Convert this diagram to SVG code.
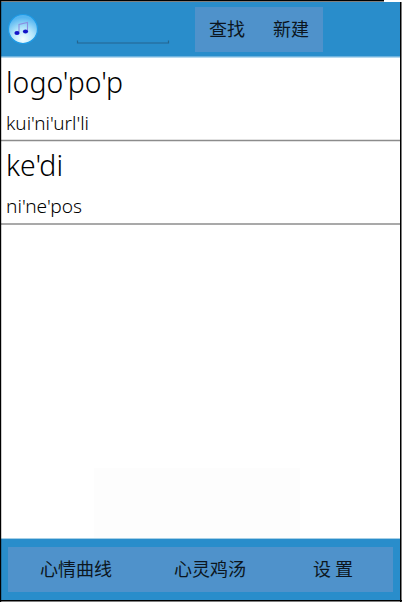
<svg xmlns="http://www.w3.org/2000/svg" width="402" height="602" viewBox="0 0 402 602">
<defs>
<style>
.bar{fill:#298dcb}
.panel{fill:#4f92cb}
.cjk{font-family:"Noto Sans CJK SC","Noto Sans",sans-serif;font-size:18px;fill:#0c1620}
.big{font-family:"Noto Sans",sans-serif;font-size:28.500px;font-weight:300;fill:#000}
.small{font-family:"Noto Sans",sans-serif;font-size:18.500px;font-weight:300;fill:#000}
.sep{stroke:#8c8c8c;stroke-width:1.4;fill:none}
</style>
<radialGradient id="orb" cx="50%" cy="85%" r="75%">
<stop offset="0" stop-color="#f4fdff"/><stop offset="0.5" stop-color="#b5e6fb"/><stop offset="1" stop-color="#55b5f0"/>
</radialGradient>
</defs>
<rect width="402" height="602" fill="#fff"/>
<rect x="94" y="468" width="206" height="70" fill="#fdfdfd"/>
<g id="top-bar">
<rect class="bar" x="1" y="2" width="399" height="55"/>
<rect x="1" y="56" width="399" height="1.5" fill="#6fb3de"/>
</g>
<g id="music-icon">
<circle cx="23" cy="29" r="14.5" fill="url(#orb)" stroke="#1f9be6" stroke-width="1.2"/>
<path d="M19 32V24.500L27.500 22.500V30.500" fill="none" stroke="#8a8fe0" stroke-width="1.100"/>
<ellipse cx="17" cy="33" rx="2.600" ry="2" fill="#1414c8"/>
<ellipse cx="25.500" cy="31.500" rx="2.600" ry="2" fill="#1414c8"/>
</g>
<g id="search-input">
<path d="M77.500 40.500V43H168.500V40.500" fill="none" stroke="#24658f" stroke-width="1.200"/>
</g>
<g id="top-buttons">
<rect class="panel" x="195" y="7" width="128" height="45"/>
<text class="cjk" x="209" y="36">查找</text>
<text class="cjk" x="273" y="36">新建</text>
</g>
<g id="item-1">
<text class="big" x="6" y="93" textLength="117" lengthAdjust="spacingAndGlyphs">logo'po'p</text>
<text class="small" x="6" y="129.500" textLength="83" lengthAdjust="spacingAndGlyphs">kui'ni'url'li</text>
<path class="sep" d="M1 140.500H401"/>
</g>
<g id="item-2">
<text class="big" x="6" y="176" textLength="57" lengthAdjust="spacingAndGlyphs">ke'di</text>
<text class="small" x="6" y="213" textLength="76" lengthAdjust="spacingAndGlyphs">ni'ne'pos</text>
<path class="sep" d="M1 224H401"/>
</g>
<g id="bottom-bar">
<rect x="1" y="538" width="399" height="1.5" fill="#a5cfe6"/>
<rect class="bar" x="1" y="539" width="399" height="61"/>
<rect class="panel" x="8" y="547" width="385" height="45"/>
<text class="cjk" x="40" y="576">心情曲线</text>
<text class="cjk" x="174" y="576">心灵鸡汤</text>
<text class="cjk" x="313" y="576">设 置</text>
</g>
<g id="frame" fill="#000">
<rect x="0" y="0" width="1.200" height="602"/>
<rect x="0" y="0" width="384" height="1.500"/>
<rect x="384" y="0" width="18" height="1" fill="#fff"/>
<rect x="400" y="2" width="1.500" height="600"/>
<rect x="0" y="600" width="402" height="1.500"/>
</g>
</svg>
